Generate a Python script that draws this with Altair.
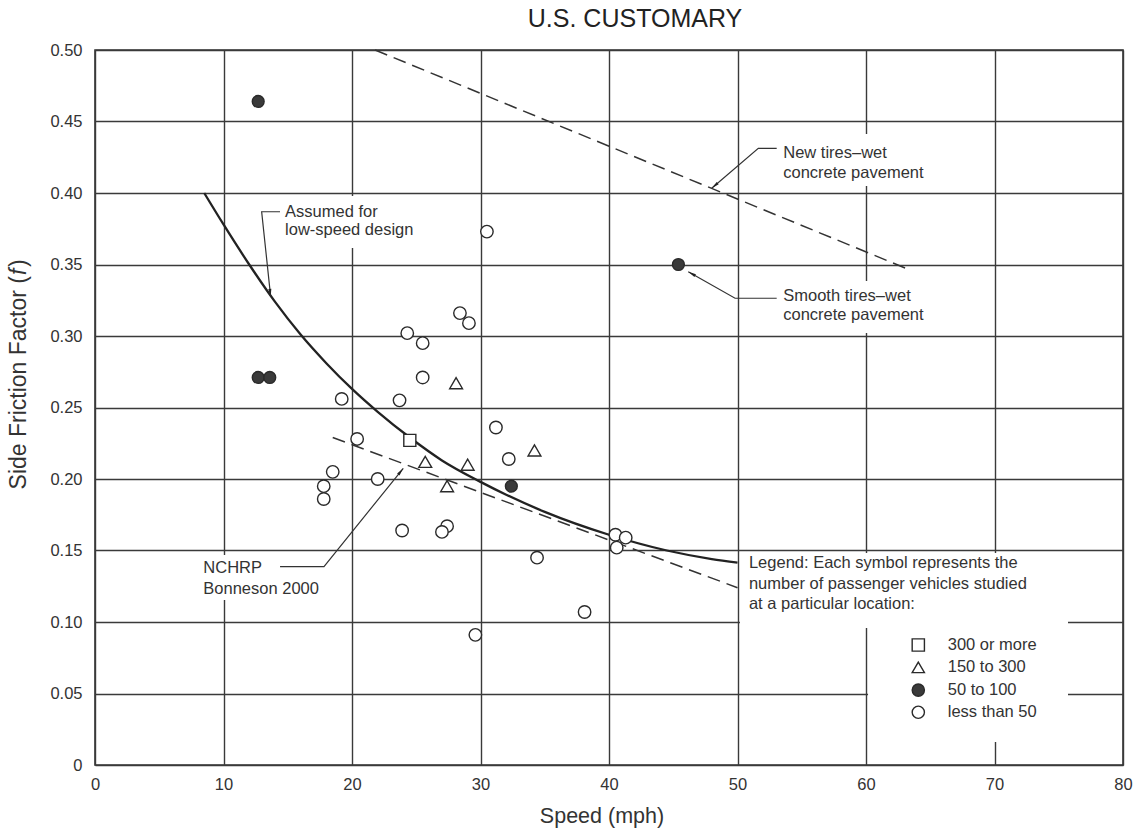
import math
import altair as alt
import pandas as pd

# ---------------- data ----------------
# open circles: less than 50 vehicles
circle_speed = [30.5, 28.4, 29.1, 24.3, 25.5, 25.5, 19.2, 23.7, 31.2, 20.4, 32.2, 18.5,
                22.0, 17.8, 17.8, 23.9, 27.4, 27.0, 34.4, 38.1, 29.6, 40.5, 41.3, 40.6]
circle_f = [0.373, 0.316, 0.309, 0.302, 0.295, 0.271, 0.256, 0.255, 0.236, 0.228, 0.214, 0.205,
            0.200, 0.195, 0.186, 0.164, 0.167, 0.163, 0.145, 0.107, 0.091, 0.161, 0.159, 0.152]
# triangles: 150 to 300
tri_speed = [28.1, 34.2, 25.7, 29.0, 27.4]
tri_f = [0.267, 0.220, 0.212, 0.210, 0.195]
# square: 300 or more
sq_speed = [24.5]
sq_f = [0.227]
# filled dots: 50 to 100
dot_speed = [12.7, 45.4, 12.7, 13.6, 32.4]
dot_f = [0.464, 0.350, 0.271, 0.271, 0.195]

# curve "Assumed for low-speed design"
curve_speed = [8.5, 10, 12, 14, 16, 18, 20, 22, 24.5, 27, 30, 32, 35, 40, 44.5, 48, 50]
curve_f = [0.400, 0.378, 0.350, 0.324, 0.301, 0.281, 0.263, 0.247, 0.229, 0.213, 0.198,
           0.189, 0.177, 0.161, 0.150, 0.144, 0.1415]
# NCHRP Bonneson 2000 (dashed)
nchrp_speed = [18.5, 50]
nchrp_f = [0.229, 0.124]
# New tires - wet concrete pavement (dashed)
newtire_speed = [21.8, 63.2]
newtire_f = [0.500, 0.347]

x_ticks = [0, 10, 20, 30, 40, 50, 60, 70, 80]
y_ticks = [0, 0.05, 0.10, 0.15, 0.20, 0.25, 0.30, 0.35, 0.40, 0.45, 0.50]

legend_labels = ["300 or more", "150 to 300", "50 to 100", "less than 50"]
legend_intro = ["Legend: Each symbol represents the",
                "number of passenger vehicles studied",
                "at a particular location:"]

# annotation texts and anchor points (data units)
ann_lines = ["Assumed for", "low-speed design",
             "New tires\u2013wet", "concrete pavement",
             "Smooth tires\u2013wet", "concrete pavement",
             "NCHRP", "Bonneson 2000"] + legend_intro
ann_x = [14.79, 14.79, 53.56, 53.56, 53.56, 53.56, 8.43, 8.43, 50.89, 50.89, 50.89]
ann_y = [0.3869, 0.3741, 0.4282, 0.4142, 0.3282, 0.3147, 0.1376, 0.1229, 0.1410, 0.1266, 0.1126]

# leader lines (data units), last vertex is the arrow tip
leader_groups = {
    "assumed": ([14.40, 12.97, 13.67], [0.3869, 0.3869, 0.3275]),
    "newtires": ([53.05, 51.62, 47.99], [0.4312, 0.4312, 0.4033]),
    "smooth": ([53.05, 49.81, 46.17], [0.3264, 0.3264, 0.3450]),
    "nchrp": ([14.40, 17.82, 23.99], [0.1387, 0.1387, 0.2075]),
}

# white label backgrounds that interrupt the grid (data units)
box_x = [14.40, 53.15, 53.15, 8.02, 50.19, 60.16]
box_x2 = [25.68, 66.15, 66.15, 18.29, 75.72, 75.72]
box_y = [0.3979, 0.4413, 0.3385, 0.1469, 0.1483, 0.0958]
box_y2 = [0.3615, 0.4049, 0.3021, 0.1154, 0.0958, 0.0161]

# legend rows (data units)
leg_sym_x = 64.07
leg_lab_x = 66.36
leg_y = [0.0839, 0.0683, 0.0524, 0.0369]

# ---------------- chart ----------------
W, H = 1028, 715
XMAX, YMAX = 80.0, 0.5
FONT = "Liberation Sans"
INK = "#333333"

x_axis = alt.Axis(values=x_ticks, title=None, grid=True, ticks=False, domain=False,
                  labelFontSize=16.5, labelFont=FONT, labelColor=INK, labelPadding=11,
                  labelFlush=False, gridColor="#3a3a3a", gridWidth=1.4, gridOpacity=1)
y_axis = alt.Axis(values=y_ticks, title=None, grid=True, ticks=False, domain=False,
                  labelFontSize=16.5, labelFont=FONT, labelColor=INK, labelPadding=13,
                  labelFlush=False, gridColor="#3a3a3a", gridWidth=1.4, gridOpacity=1,
                  labelExpr="datum.value == 0 ? '0' : format(datum.value, '.2f')")
xs = alt.Scale(domain=[0, XMAX], nice=False, zero=False)
ys = alt.Scale(domain=[0, YMAX], nice=False, zero=False)


def X(f="x"):
    return alt.X(f"{f}:Q", scale=xs, axis=x_axis)


def Y(f="y"):
    return alt.Y(f"{f}:Q", scale=ys, axis=y_axis)


boxes = alt.Chart(pd.DataFrame({"x": box_x, "x2": box_x2, "y": box_y, "y2": box_y2})).mark_rect(
    fill="white", stroke=None).encode(x=X(), x2="x2:Q", y=Y(), y2="y2:Q")

curve = alt.Chart(pd.DataFrame({"x": curve_speed, "y": curve_f, "o": range(len(curve_speed))})).mark_line(
    color="#222222", strokeWidth=2.3, interpolate="monotone").encode(x=X(), y=Y(), order="o:Q")

nchrp = alt.Chart(pd.DataFrame({"x": nchrp_speed, "y": nchrp_f})).mark_line(
    color=INK, strokeWidth=1.5, strokeDash=[13, 7]).encode(x=X(), y=Y())

newtire = alt.Chart(pd.DataFrame({"x": newtire_speed, "y": newtire_f})).mark_line(
    color=INK, strokeWidth=1.5, strokeDash=[13, 7]).encode(x=X(), y=Y())

# leader lines
lrows = []
arows = []
for g, (lx, ly) in leader_groups.items():
    for i, (a, b) in enumerate(zip(lx, ly)):
        lrows.append({"x": a, "y": b, "g": g, "o": i})
    dxp = (lx[-1] - lx[-2]) * W / XMAX
    dyp = -(ly[-1] - ly[-2]) * H / YMAX
    ang = math.degrees(math.atan2(dxp, -dyp)) % 360
    arows.append({"x": lx[-1], "y": ly[-1], "ang": ang})

leaders = alt.Chart(pd.DataFrame(lrows)).mark_line(color=INK, strokeWidth=1.2).encode(
    x=X(), y=Y(), detail="g:N", order="o:Q")
arrows = alt.Chart(pd.DataFrame(arows)).mark_point(
    shape="M0,0L0.42,2.2L-0.42,2.2Z", filled=True, color="#222222", size=52, opacity=1).encode(
    x=X(), y=Y(), angle=alt.Angle("ang:Q", scale=None))

sym_common = dict(stroke="#2a2a2a", strokeWidth=1.4, opacity=1)
circles = alt.Chart(pd.DataFrame({"x": circle_speed, "y": circle_f})).mark_point(
    shape="circle", filled=True, fill="white", size=155, **sym_common).encode(x=X(), y=Y())
tris = alt.Chart(pd.DataFrame({"x": tri_speed, "y": tri_f})).mark_point(
    shape="triangle-up", filled=True, fill="white", size=165, **sym_common).encode(x=X(), y=Y())
squares = alt.Chart(pd.DataFrame({"x": sq_speed, "y": sq_f})).mark_point(
    shape="square", filled=True, fill="white", size=145, **sym_common).encode(x=X(), y=Y())
dots = alt.Chart(pd.DataFrame({"x": dot_speed, "y": dot_f})).mark_point(
    shape="circle", filled=True, fill="#3a3a3a", size=140, **sym_common).encode(x=X(), y=Y())

# legend symbols
leg_shapes = ["square", "triangle-up", "circle", "circle"]
leg_fills = ["white", "white", "#3a3a3a", "white"]
leg_df = pd.DataFrame({"x": [leg_sym_x] * 4, "y": leg_y, "shape": leg_shapes,
                       "fillc": leg_fills, "label": legend_labels, "lx": [leg_lab_x] * 4})
leg_syms = alt.Chart(leg_df).mark_point(filled=True, size=150, **sym_common).encode(
    x=X(), y=Y(), shape=alt.Shape("shape:N", scale=None), fill=alt.Fill("fillc:N", scale=None))
leg_text = alt.Chart(leg_df).mark_text(align="left", baseline="middle", font=FONT,
                                       fontSize=16.5, color=INK).encode(
    x=X("lx"), y=Y(), text="label:N")

ann = alt.Chart(pd.DataFrame({"x": ann_x, "y": ann_y, "t": ann_lines})).mark_text(
    align="left", baseline="middle", font=FONT, fontSize=16.5, color=INK).encode(
    x=X(), y=Y(), text="t:N")

# titles
title = alt.Chart(pd.DataFrame({"t": ["U.S. CUSTOMARY"]})).mark_text(
    font=FONT, fontSize=25, color="#222222", align="center", baseline="middle").encode(
    x=alt.value(540), y=alt.value(-31), text="t:N")
xtitle = alt.Chart(pd.DataFrame({"t": ["Speed (mph)"]})).mark_text(
    font=FONT, fontSize=21.5, color=INK, align="center", baseline="middle").encode(
    x=alt.value(507), y=alt.value(767), text="t:N")
yt1 = alt.Chart(pd.DataFrame({"t": ["Side Friction Factor ("]})).mark_text(
    font=FONT, fontSize=23, color=INK, align="right", baseline="middle", angle=270).encode(
    x=alt.value(-76), y=alt.value(226), text="t:N")
yt2 = alt.Chart(pd.DataFrame({"t": ["f"]})).mark_text(
    font=FONT, fontSize=23, fontStyle="italic", color=INK, align="left", baseline="middle",
    angle=270).encode(x=alt.value(-76), y=alt.value(225), text="t:N")
yt3 = alt.Chart(pd.DataFrame({"t": [")"]})).mark_text(
    font=FONT, fontSize=23, color=INK, align="left", baseline="middle", angle=270).encode(
    x=alt.value(-76), y=alt.value(217), text="t:N")

chart = alt.layer(
    boxes, curve, nchrp, newtire, leaders, arrows,
    circles, tris, squares, dots, leg_syms, leg_text, ann,
    title, xtitle, yt1, yt2, yt3,
).properties(
    width=W, height=H,
    autosize=alt.AutoSizeParams(type="none"),
    padding={"left": 95, "top": 50, "right": 13, "bottom": 66},
    background="white",
).configure_view(stroke="#333333", strokeWidth=1.6)

chart.save("out.html", embed_options={"renderer": "svg", "actions": False})
